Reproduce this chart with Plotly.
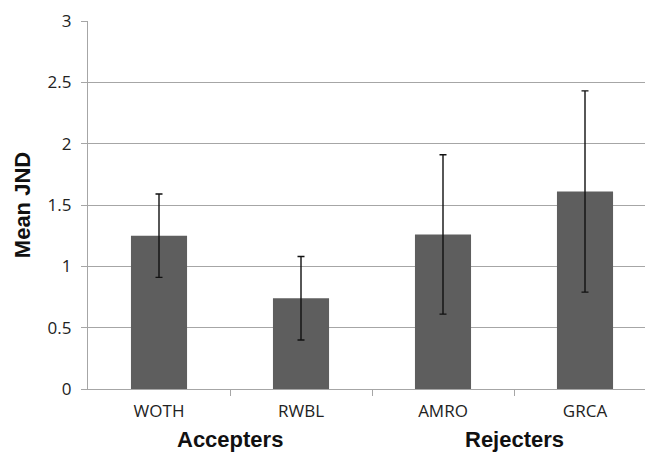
import plotly.graph_objects as go

categories = ["WOTH", "RWBL", "AMRO", "GRCA"]
means = [1.25, 0.74, 1.26, 1.61]
errors = [0.34, 0.34, 0.65, 0.82]
groups = ["Accepters", "Rejecters"]
group_pos = [0.5, 2.5]
y_ticks = [0, 0.5, 1, 1.5, 2, 2.5, 3]
y_tick_text = ["0", "0.5", "1", "1.5", "2", "2.5", "3"]

xpos = list(range(len(categories)))
xrange_ = [-0.5, 3.5]

fig = go.Figure()
fig.add_trace(go.Bar(
    x=xpos, y=means, width=0.395,
    marker=dict(color="#5e5e5e", line=dict(width=0)),
    error_y=dict(type="data", array=errors, visible=True,
                 color="#111111", thickness=1.4, width=3.5),
    showlegend=False,
))
fig.add_trace(go.Scatter(x=[None], y=[None], xaxis="x2", showlegend=False))

fig.update_layout(
    width=653, height=457,
    margin=dict(l=80, r=5, t=13, b=76, autoexpand=False),
    paper_bgcolor="white", plot_bgcolor="white",
    font=dict(family="Open Sans, Liberation Sans, sans-serif", color="#222222"),
    xaxis=dict(range=xrange_, tickvals=xpos, ticktext=categories,
               ticks="", showgrid=False, zeroline=False, automargin=False,
               showline=True, linecolor="#a6a6a6", linewidth=1.2,
               ticklabelstandoff=6,
               tickfont=dict(size=17, family="Open Sans, sans-serif", color="#222222")),
    xaxis2=dict(range=xrange_, overlaying="x", side="bottom",
                tickvals=[0.5, 1.5, 2.5], showticklabels=False, automargin=False,
                ticks="outside", ticklen=6, tickcolor="#a6a6a6", tickwidth=1.2,
                showgrid=False, zeroline=False, showline=False, anchor="y"),
    yaxis=dict(range=[0, 3], tickvals=y_ticks, ticktext=y_tick_text,
               showgrid=True, gridcolor="#a6a6a6", gridwidth=1.2, automargin=False,
               zeroline=False, showline=True, linecolor="#a6a6a6", linewidth=1.2,
               ticks="outside", ticklen=6, tickcolor="#a6a6a6", tickwidth=1.2,
               ticklabelstandoff=6, ticklabeloverflow="allow",
               tickfont=dict(size=17, family="Open Sans, sans-serif", color="#222222"),
               title=dict(text="<b>Mean JND</b>", standoff=10,
                          font=dict(size=22, family="Liberation Sans, Arial, sans-serif", color="#111111"))),
)

for g, p in zip(groups, group_pos):
    fig.add_annotation(x=p, xref="x", y=0, yref="paper", yshift=-65,
                       text="<b>" + g + "</b>", showarrow=False,
                       font=dict(size=22, family="Liberation Sans, Arial, sans-serif", color="#111111"))

fig.write_html("out.html")
